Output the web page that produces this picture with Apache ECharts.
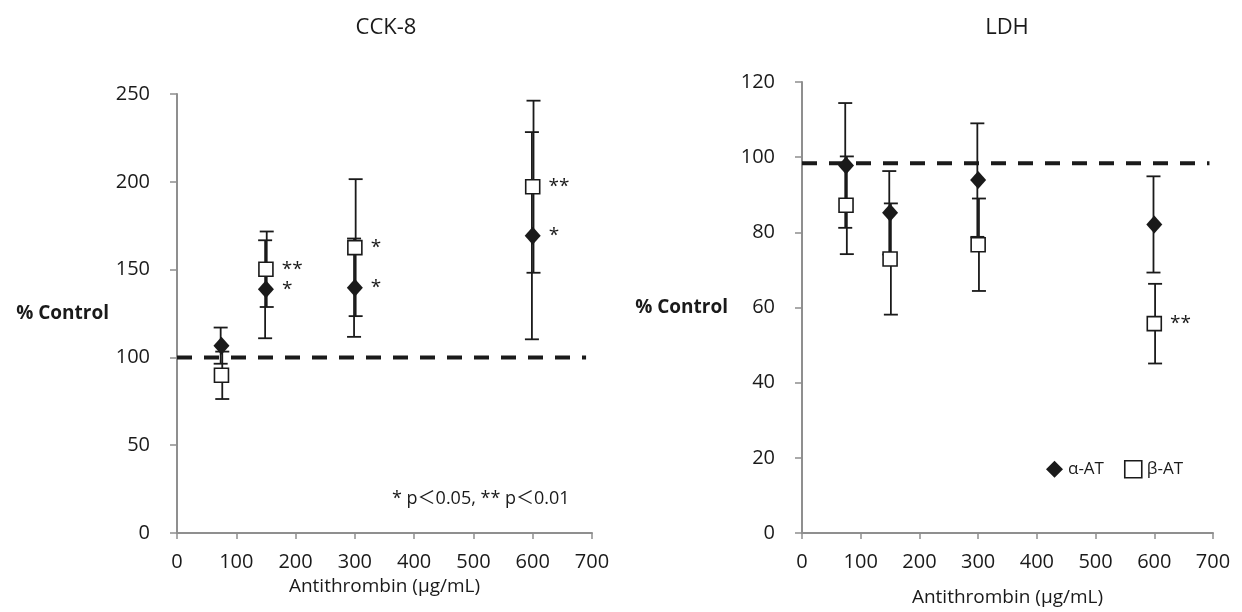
<!DOCTYPE html>
<html>
<head>
<meta charset="utf-8">
<script src="https://cdn.jsdelivr.net/npm/echarts@6/dist/echarts.min.js"></script>
<style>
    html, body { margin: 0; padding: 0; background: #fff; }
    #chart { width: 1242px; height: 612px; }
</style>
</head>
<body>
<div id="chart"></div>
<script>
    // doses (ug/mL)
    const doses = [75, 150, 300, 600];

    // CCK-8
    const cckAlpha = [106.7, 138.8, 139.7, 169.3];
    const cckAlphaErr = [10.3, 27.9, 28, 59];
    const cckBeta = [89.8, 150.2, 162.5, 197.2];
    const cckBetaErr = [13.5, 21.5, 39, 49];
    const cckAlphaSig = ['', '*', '*', '*'];
    const cckBetaSig = ['', '**', '*', '**'];
    const cckControl = [[0, 100], [690, 100]];

    // LDH
    const ldhAlpha = [97.8, 85.2, 93.9, 82.1];
    const ldhAlphaErr = [16.6, 11.1, 15.1, 12.8];
    const ldhBeta = [87.2, 72.9, 76.7, 55.7];
    const ldhBetaErr = [13, 14.8, 12.3, 10.6];
    const ldhAlphaSig = ['', '', '', ''];
    const ldhBetaSig = ['', '', '', '**'];
    const ldhControl = [[0, 98.4], [694, 98.4]];

    const FONT = '"Open Sans", "Noto Sans CJK JP", sans-serif';
    const INK = '#1a1a1a';
    const AXIS = '#8f8f8f';

    const pts = (vals) => doses.map((d, i) => [d, vals[i]]);
    const bars = (vals, errs) => doses.map((d, i) => [d, vals[i] - errs[i], vals[i] + errs[i]]);

    // 误差线
    const errBar = (dx) => (params, api) => {
        let lo = api.coord([api.value(0), api.value(1)]);
        let hi = api.coord([api.value(0), api.value(2)]);
        let x = lo[0] + dx;
        let w = 7;
        let style = {stroke: INK, lineWidth: 1.8};
        return {
            type: 'group',
            children: [
                {type: 'line', shape: {x1: x, y1: lo[1], x2: x, y2: hi[1]}, style},
                {type: 'line', shape: {x1: x - w, y1: lo[1], x2: x + w, y2: lo[1]}, style},
                {type: 'line', shape: {x1: x - w, y1: hi[1], x2: x + w, y2: hi[1]}, style}
            ]
        };
    };

    const sigLabel = (sig) => ({
        show: true,
        position: 'right',
        distance: 8,
        color: INK,
        fontSize: 19,
        fontFamily: FONT,
        formatter: p => sig[p.dataIndex]
    });

    const xAxisOf = (gridIndex, nameGap) => ({
        gridIndex,
        type: 'value',
        min: 0,
        max: 700,
        interval: 100,
        name: 'Antithrombin (μg/mL)',
        nameLocation: 'middle',
        nameGap,
        nameTextStyle: {fontSize: 19, fontFamily: FONT, color: INK},
        axisLine: {lineStyle: {color: AXIS, width: 2}},
        axisTick: {show: true, length: 6, lineStyle: {color: AXIS, width: 1.5}},
        axisLabel: {fontSize: 20, fontFamily: FONT, color: INK, margin: 19},
        splitLine: {show: false}
    });

    const yAxisOf = (gridIndex, max, interval, nameGap) => ({
        gridIndex,
        type: 'value',
        min: 0,
        max,
        interval,
        name: '% Control',
        nameLocation: 'middle',
        nameRotate: 0,
        nameGap,
        nameTextStyle: {fontSize: 19, fontWeight: 'bold', fontFamily: FONT, color: INK},
        axisLine: {show: true, lineStyle: {color: AXIS, width: 2}},
        axisTick: {show: true, length: 7, lineStyle: {color: AXIS, width: 1.5}},
        axisLabel: {fontSize: 20, fontFamily: FONT, color: INK, margin: 27},
        splitLine: {show: false}
    });

    const seriesFor = (idx, alpha, alphaErr, beta, betaErr, alphaSig, betaSig, control) => [
        {
            type: 'line',
            xAxisIndex: idx,
            yAxisIndex: idx,
            data: control,
            symbol: 'none',
            silent: true,
            z: 1,
            lineStyle: {color: INK, width: 4, type: [15, 12]}
        },
        {
            type: 'custom',
            xAxisIndex: idx,
            yAxisIndex: idx,
            data: bars(alpha, alphaErr),
            renderItem: errBar(-0.8),
            encode: {x: 0, y: [1, 2]},
            z: 2
        },
        {
            type: 'custom',
            xAxisIndex: idx,
            yAxisIndex: idx,
            data: bars(beta, betaErr),
            renderItem: errBar(0.8),
            encode: {x: 0, y: [1, 2]},
            z: 2
        },
        {
            type: 'scatter',
            name: 'β-AT',
            xAxisIndex: idx,
            yAxisIndex: idx,
            data: pts(beta),
            symbol: 'rect',
            symbolSize: 14,
            itemStyle: {color: '#fff', borderColor: INK, borderWidth: 1.6, opacity: 1},
            label: sigLabel(betaSig),
            z: 4
        },
        {
            type: 'scatter',
            name: 'α-AT',
            xAxisIndex: idx,
            yAxisIndex: idx,
            data: pts(alpha),
            symbol: 'diamond',
            symbolSize: [16, 18],
            itemStyle: {color: INK, opacity: 1},
            label: sigLabel(alphaSig),
            z: 5
        }
    ];

    let option = {
        animation: false,
        backgroundColor: '#fff',
        title: [
            {text: 'CCK-8', left: 381, top: 12, textAlign: 'center',
                textStyle: {fontSize: 22, fontWeight: 'normal', fontFamily: FONT, color: INK}},
            {text: 'LDH', left: 1002, top: 12, textAlign: 'center',
                textStyle: {fontSize: 22, fontWeight: 'normal', fontFamily: FONT, color: INK}}
        ],
        legend: {
            left: 1041,
            top: 455,
            itemGap: 20,
            itemWidth: 17,
            itemHeight: 17,
            textStyle: {fontSize: 17, fontFamily: FONT, color: INK},
            data: [
                {name: 'α-AT', icon: 'diamond', itemStyle: {color: INK, opacity: 1}},
                {name: 'β-AT', icon: 'rect', itemStyle: {color: '#fff', borderColor: INK, borderWidth: 1.6, opacity: 1}}
            ]
        },
        graphic: [
            {
                type: 'text',
                left: 392,
                top: 490,
                style: {text: '* p＜0.05, ** p＜0.01', fontSize: 18, fontFamily: FONT, fill: INK}
            }
        ],
        grid: [
            {left: 177, right: 650, top: 94, bottom: 79},
            {left: 802, right: 29, top: 82, bottom: 77}
        ],
        xAxis: [xAxisOf(0, 40), xAxisOf(1, 55)],
        yAxis: [yAxisOf(0, 250, 50, 68), yAxisOf(1, 120, 20, 74)],
        series: [
            ...seriesFor(0, cckAlpha, cckAlphaErr, cckBeta, cckBetaErr, cckAlphaSig, cckBetaSig, cckControl),
            ...seriesFor(1, ldhAlpha, ldhAlphaErr, ldhBeta, ldhBetaErr, ldhAlphaSig, ldhBetaSig, ldhControl)
        ]
    };

    let myChart = echarts.init(document.getElementById('chart'));
    myChart.setOption(option);
</script>
</body>
</html>
